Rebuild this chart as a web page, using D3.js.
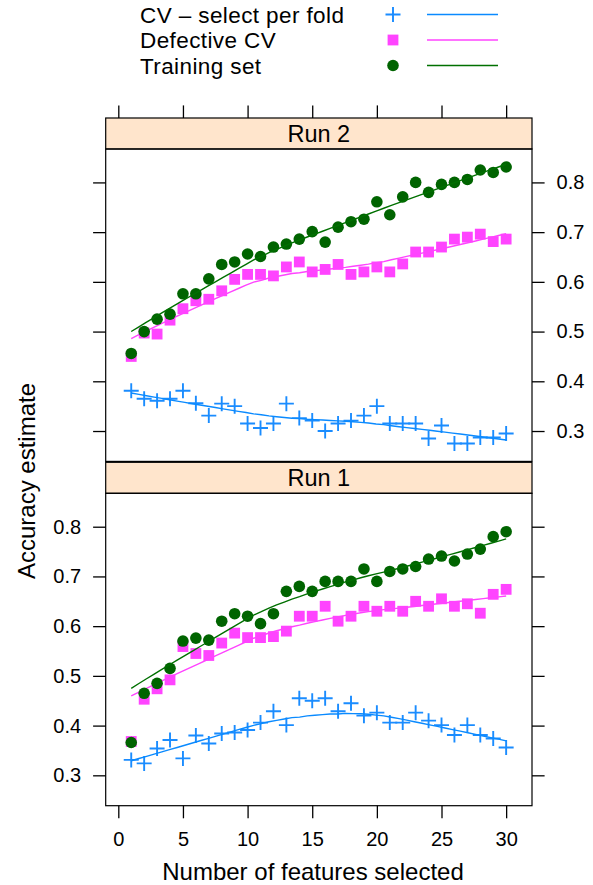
<!DOCTYPE html>
<html>
<head>
<meta charset="utf-8">
<script src="https://cdn.jsdelivr.net/npm/d3@7"></script>
<style>
  html, body { margin: 0; padding: 0; background: #ffffff; }
  svg { display: block; }
  text { font-family: "Liberation Sans", Arial, Helvetica, sans-serif; fill: #000; }
</style>
</head>
<body>
<svg id="chart" width="593" height="885"></svg>
<script>
// ---------------- data ----------------
const features = [1,2,3,4,5,6,7,8,9,10,11,12,13,14,15,16,17,18,19,20,21,22,23,24,25,26,27,28,29,30];
const seriesNames = ["CV \u2013 select per fold", "Defective CV", "Training set"];
const panelNames = ["Run 1", "Run 2"];

const run1CV    = [0.331,0.324,0.354,0.371,0.334,0.380,0.364,0.384,0.386,0.391,0.406,0.429,0.401,0.455,0.450,0.455,0.429,0.445,0.420,0.426,0.406,0.406,0.426,0.410,0.401,0.381,0.401,0.381,0.374,0.356];
const run1Def   = [0.368,0.453,0.474,0.492,0.559,0.545,0.541,0.566,0.586,0.577,0.577,0.579,0.590,0.620,0.620,0.640,0.610,0.620,0.640,0.630,0.640,0.630,0.650,0.640,0.655,0.640,0.645,0.626,0.664,0.674];
const run1Train = [0.366,0.465,0.485,0.515,0.570,0.576,0.572,0.610,0.625,0.620,0.605,0.625,0.670,0.680,0.670,0.690,0.690,0.690,0.715,0.690,0.710,0.715,0.720,0.735,0.741,0.731,0.745,0.755,0.780,0.790];

const run2CV    = [0.381,0.365,0.361,0.365,0.381,0.356,0.331,0.355,0.350,0.315,0.306,0.315,0.355,0.326,0.321,0.300,0.315,0.321,0.331,0.350,0.315,0.315,0.315,0.285,0.311,0.275,0.275,0.287,0.287,0.295];
const run2Def   = [0.450,0.497,0.495,0.523,0.546,0.562,0.565,0.582,0.605,0.615,0.615,0.612,0.630,0.640,0.620,0.625,0.635,0.615,0.620,0.630,0.620,0.636,0.660,0.660,0.670,0.686,0.690,0.696,0.681,0.686];
const run2Train = [0.456,0.500,0.525,0.535,0.576,0.576,0.606,0.635,0.640,0.656,0.651,0.670,0.676,0.686,0.701,0.680,0.710,0.721,0.726,0.761,0.735,0.771,0.800,0.780,0.796,0.800,0.806,0.825,0.820,0.831];

const xTicks = [0,5,10,15,20,25,30];
const yTicks = [0.3,0.4,0.5,0.6,0.7,0.8];

// ---------------- styles ----------------
const colors = ["#1a8cff", "#ff44ff", "#006400"];
const lineColors = ["#0a8aff", "#ff44ff", "#007000"];
const stripFill = "#ffe5cc";

// ---------------- layout ----------------
const svg = d3.select("#chart");
const panelLeft = 105.7, panelRight = 532;
const stripH = 31;
const bottomPanel = {top: 493.3, bottom: 805.7};
const topPanel = {top: 149.0, bottom: 461.4};

const x = d3.scaleLinear().domain([-0.975, 32.0]).range([panelLeft, panelRight]);
const yDomain = [0.2389, 0.8672];

const panels = [
  {name: panelNames[1], box: topPanel, data: [run2CV, run2Def, run2Train], pos: "top"},
  {name: panelNames[0], box: bottomPanel, data: [run1CV, run1Def, run1Train], pos: "bottom"}
];

// loess (degree 1, span 2/3, symmetric family with 4 iterations)
function loessSmooth(xs, ys, span, iterations, nEval) {
  const n = xs.length;
  const q = Math.floor(n * span);
  let rw = new Array(n).fill(1);
  function fitAt(x0) {
    const d = xs.map(v => Math.abs(v - x0));
    const sd = d.slice().sort((a, b) => a - b);
    let h = sd[q - 1];
    if (h <= 0) h = 1e-9;
    h = h * 1.000001;
    let sw = 0, sx = 0, sy = 0, sxx = 0, sxy = 0;
    for (let i = 0; i < n; i++) {
      const u = d[i] / h;
      if (u >= 1) continue;
      const t = 1 - u * u * u;
      const w = t * t * t * rw[i];
      sw += w; sx += w * xs[i]; sy += w * ys[i];
      sxx += w * xs[i] * xs[i]; sxy += w * xs[i] * ys[i];
    }
    const mx = sx / sw, my = sy / sw;
    const vxx = sxx / sw - mx * mx;
    const vxy = sxy / sw - mx * my;
    const b = vxx > 1e-12 ? vxy / vxx : 0;
    return my + b * (x0 - mx);
  }
  for (let j = 1; j <= iterations; j++) {
    if (j === iterations) break;
    const res = xs.map((v, i) => ys[i] - fitAt(v));
    const absr = res.map(Math.abs).sort((a, b) => a - b);
    const med = n % 2 ? absr[(n - 1) / 2] : (absr[n / 2 - 1] + absr[n / 2]) / 2;
    const cmad = 6 * med;
    rw = res.map(r => {
      const a = Math.abs(r);
      if (a <= 0.001 * cmad) return 1;
      if (a > 0.999 * cmad) return 0;
      const z = a / cmad;
      return (1 - z * z) * (1 - z * z);
    });
  }
  const lo = d3.min(xs), hi = d3.max(xs);
  const out = [];
  for (let k = 0; k < nEval; k++) {
    const x0 = lo + (hi - lo) * k / (nEval - 1);
    out.push([x0, fitAt(x0)]);
  }
  return out;
}

function drawSymbol(g, type, cx, cy, color) {
  if (type === 0) {
    const s = 7.5;
    g.append("path")
      .attr("d", `M${cx - s},${cy}H${cx + s}M${cx},${cy - s}V${cy + s}`)
      .attr("stroke", color).attr("stroke-width", 1.9).attr("fill", "none");
  } else if (type === 1) {
    const s = 5.4;
    g.append("rect").attr("x", cx - s).attr("y", cy - s)
      .attr("width", 2 * s).attr("height", 2 * s).attr("fill", color);
  } else {
    g.append("circle").attr("cx", cx).attr("cy", cy).attr("r", 5.8).attr("fill", color);
  }
}

panels.forEach(p => {
  const y = d3.scaleLinear().domain(yDomain).range([p.box.bottom, p.box.top]);
  const g = svg.append("g");

  // strip
  g.append("rect")
    .attr("x", panelLeft).attr("y", p.box.top - stripH)
    .attr("width", panelRight - panelLeft).attr("height", stripH)
    .attr("fill", stripFill).attr("stroke", "#000").attr("stroke-width", 1.2);
  g.append("text")
    .attr("x", (panelLeft + panelRight) / 2).attr("y", p.box.top - stripH / 2)
    .attr("dy", "0.36em").attr("text-anchor", "middle")
    .attr("font-size", 23.5).text(p.name);

  // data
  const clipId = "clip" + p.pos;
  svg.append("clipPath").attr("id", clipId).append("rect")
    .attr("x", panelLeft).attr("y", p.box.top)
    .attr("width", panelRight - panelLeft).attr("height", p.box.bottom - p.box.top);
  const dg = g.append("g").attr("clip-path", `url(#${clipId})`);
  const line = d3.line().x(d => x(d[0])).y(d => y(d[1]));
  p.data.forEach((vals, si) => {
    const sg = dg.append("g");
    features.forEach((f, i) => drawSymbol(sg, si, x(f), y(vals[i]), colors[si]));
    const sm = loessSmooth(features, vals, 2 / 3, 4, 50);
    sg.append("path").datum(sm).attr("d", line)
      .attr("fill", "none").attr("stroke", lineColors[si]).attr("stroke-width", 1.4);
  });

  // panel border
  g.append("rect")
    .attr("x", panelLeft).attr("y", p.box.top)
    .attr("width", panelRight - panelLeft).attr("height", p.box.bottom - p.box.top)
    .attr("fill", "none").attr("stroke", "#000").attr("stroke-width", 1.2);

  // y axes
  const leftAx = g.append("g").attr("transform", `translate(${panelLeft},0)`)
    .call(d3.axisLeft(y).tickValues(yTicks).tickSize(12.6).tickPadding(12)
      .tickFormat(p.pos === "bottom" ? d3.format(".1f") : () => ""));
  const rightAx = g.append("g").attr("transform", `translate(${panelRight},0)`)
    .call(d3.axisRight(y).tickValues(yTicks).tickSize(12.6).tickPadding(12)
      .tickFormat(p.pos === "top" ? d3.format(".1f") : () => ""));
  [leftAx, rightAx].forEach(a => {
    a.select(".domain").remove();
    a.selectAll("line").attr("stroke", "#000").attr("stroke-width", 1.3);
    a.selectAll("text").attr("font-size", 20)
      .style("font-family", '"Liberation Sans", Arial, Helvetica, sans-serif');
  });

  // x axes
  if (p.pos === "bottom") {
    const bx = g.append("g").attr("transform", `translate(0,${p.box.bottom})`)
      .call(d3.axisBottom(x).tickValues(xTicks).tickSize(12.6).tickPadding(14));
    bx.select(".domain").remove();
    bx.selectAll("line").attr("stroke", "#000").attr("stroke-width", 1.3);
    bx.selectAll("text").attr("font-size", 20)
      .style("font-family", '"Liberation Sans", Arial, Helvetica, sans-serif');
  } else {
    const tx = g.append("g").attr("transform", `translate(0,${p.box.top - stripH})`)
      .call(d3.axisTop(x).tickValues(xTicks).tickSize(12.6).tickFormat(() => ""));
    tx.select(".domain").remove();
    tx.selectAll("line").attr("stroke", "#000").attr("stroke-width", 1.3);
  }
});

// axis titles
svg.append("text").attr("x", 313).attr("y", 880)
  .attr("text-anchor", "middle").attr("font-size", 24)
  .text("Number of features selected");
svg.append("text").attr("transform", "translate(35,481) rotate(-90)")
  .attr("text-anchor", "middle").attr("font-size", 24)
  .text("Accuracy estimate");

// legend
const legendRows = [14.5, 40, 65.5];
const lg = svg.append("g");
seriesNames.forEach((name, i) => {
  lg.append("text").attr("x", 140).attr("y", legendRows[i])
    .attr("dy", "0.36em").attr("font-size", 22.5).attr("letter-spacing", 0.4).text(name);
  drawSymbol(lg, i, 393, legendRows[i], colors[i]);
  lg.append("line").attr("x1", 427).attr("x2", 498)
    .attr("y1", legendRows[i]).attr("y2", legendRows[i])
    .attr("stroke", lineColors[i]).attr("stroke-width", 1.4);
});
</script>
</body>
</html>
